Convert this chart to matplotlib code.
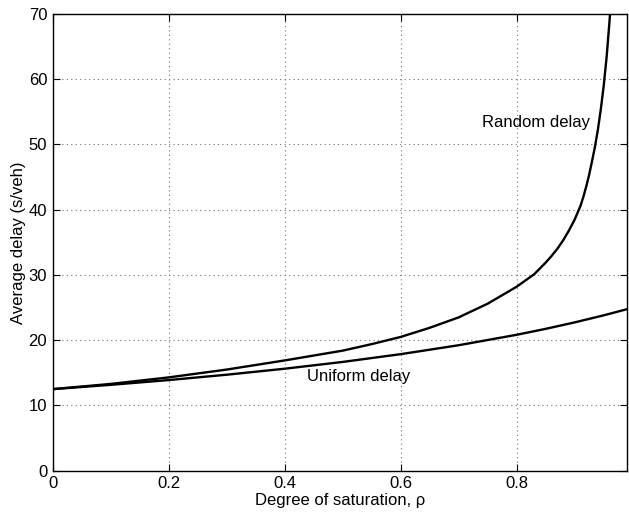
import matplotlib
matplotlib.use('Agg')
import matplotlib.pyplot as plt

plt.rcParams['font.family'] = ['Liberation Sans', 'DejaVu Sans']

# degree of saturation and delays
rho_uniform = [0.0, 0.1, 0.2, 0.3, 0.4, 0.5, 0.6, 0.7, 0.8, 0.85, 0.9, 0.95, 0.99]
uniform_delay = [12.5, 13.16, 13.89, 14.71, 15.63, 16.67, 17.86, 19.23, 20.83, 21.74, 22.73, 23.81, 24.75]

rho_random = [0.0, 0.1, 0.2, 0.3, 0.4, 0.5, 0.55, 0.6, 0.65, 0.7, 0.75, 0.8, 0.83, 0.85, 0.86,
              0.87, 0.88, 0.89, 0.9, 0.91, 0.915, 0.92, 0.925, 0.93, 0.935, 0.94, 0.945,
              0.95, 0.955, 0.96, 0.963]
random_delay = [12.5, 13.3, 14.3, 15.5, 16.9, 18.4, 19.4, 20.5, 21.9, 23.5, 25.6, 28.2, 30.1, 31.9, 32.9,
                34.0, 35.3, 36.8, 38.5, 40.6, 42.0, 43.6, 45.4, 47.5, 49.7, 52.3, 55.4,
                59.0, 63.4, 68.9, 73.0]

fig = plt.figure(figsize=(6.29, 5.15), dpi=100)
ax = fig.add_axes([0.0838, 0.086, 0.9129, 0.887])

ax.plot(rho_uniform, uniform_delay, color='black', lw=1.7)
ax.plot(rho_random, random_delay, color='black', lw=1.7)

ax.text(0.74, 53.3, 'Random delay', fontsize=12, va='center', ha='left')
ax.text(0.438, 14.4, 'Uniform delay', fontsize=12, va='center', ha='left')

ax.set_xlim(0, 0.99)
ax.set_ylim(0, 70)
ax.set_xticks([0, 0.2, 0.4, 0.6, 0.8])
ax.set_xticklabels(['0', '0.2', '0.4', '0.6', '0.8'])
ax.set_yticks(range(0, 71, 10))

ax.grid(True, color='#777777', linestyle=(0, (1, 3)), linewidth=0.8)
ax.tick_params(direction='in', top=True, right=True, labelsize=12, length=5, pad=4)
for s in ax.spines.values():
    s.set_linewidth(1.0)

ax.set_xlabel('Degree of saturation, ρ', fontsize=12, labelpad=1)
ax.set_ylabel('Average delay (s/veh)', fontsize=12, labelpad=2)

fig.savefig('out.png', dpi=100)
